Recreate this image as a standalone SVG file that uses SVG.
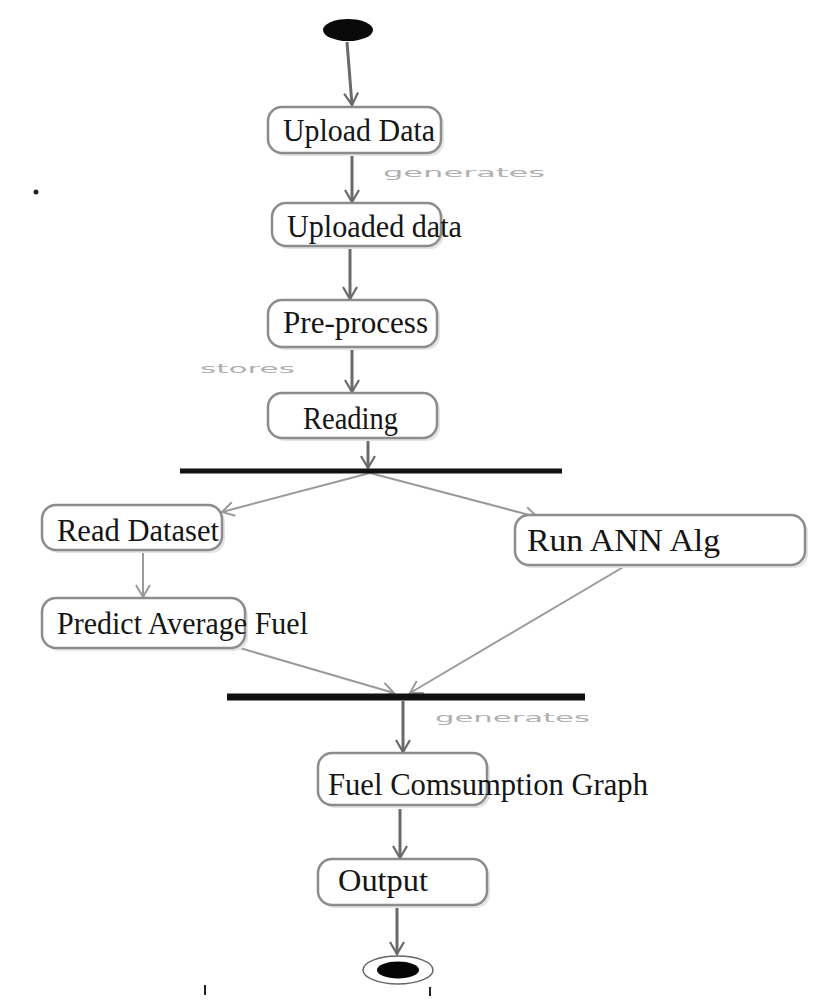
<svg xmlns="http://www.w3.org/2000/svg" width="833" height="1003" viewBox="0 0 833 1003">
  <style>
    .box { fill: #ffffff; stroke: #8c8c8c; stroke-width: 2.5; }
    .shadow { fill: #e4e4e4; }
    .label { font-family: "Liberation Serif", "Times New Roman", serif; font-size: 32px; fill: #151515; }
    .note { font-family: "DejaVu Sans", "Liberation Sans", sans-serif; font-size: 13px; fill: #b0b0b0; }
    .flow { stroke: #6a6a6a; stroke-width: 3; fill: none; marker-end: url(#arrow); }
    .flow-thin { stroke: #9a9a9a; stroke-width: 2; fill: none; marker-end: url(#arrow-light); }
    .bar { stroke: #111111; }
  </style>
  <defs>
    <marker id="arrow" markerUnits="userSpaceOnUse" markerWidth="18" markerHeight="18" refX="14" refY="8" orient="auto">
      <path d="M2,1 L14,8 L2,15" fill="none" stroke="#6a6a6a" stroke-width="2.2"/>
    </marker>
    <marker id="arrow-light" markerUnits="userSpaceOnUse" markerWidth="18" markerHeight="18" refX="14" refY="8" orient="auto">
      <path d="M2,1 L14,8 L2,15" fill="none" stroke="#9a9a9a" stroke-width="2"/>
    </marker>
  </defs>

  <rect width="833" height="1003" fill="#ffffff"/>

  <!-- connectors -->
  <g id="connectors">
    <path class="flow" d="M347,42 L352,105"/>
    <path class="flow" d="M352,154 L352,202"/>
    <path class="flow" d="M350,247 L350,299"/>
    <path class="flow" d="M352,348 L352,392"/>
    <path class="flow" d="M368,439 L368,468"/>
    <path class="flow-thin" d="M370,473 L222,512"/>
    <path class="flow-thin" d="M370,473 L537,517"/>
    <path class="flow-thin" d="M143,552 L143,597"/>
    <path class="flow-thin" d="M240,648 L394,693"/>
    <path class="flow-thin" d="M625,566 L410,693"/>
    <path class="flow" d="M403,701 L403,752"/>
    <path class="flow" d="M400,809 L400,858"/>
    <path class="flow" d="M397,907 L397,954"/>
  </g>

  <!-- guard labels on flows -->
  <g id="flow-labels">
    <text class="note" x="383" y="177" textLength="162" lengthAdjust="spacingAndGlyphs">generates</text>
    <text class="note" x="200" y="373" textLength="95" lengthAdjust="spacingAndGlyphs">stores</text>
    <text class="note" x="435" y="722" textLength="155" lengthAdjust="spacingAndGlyphs">generates</text>
  </g>

  <!-- initial state -->
  <g id="start">
    <ellipse cx="348" cy="30" rx="25" ry="11" fill="#0a0a0a"/>
  </g>

  <g id="upload-data">
    <rect class="shadow" x="271" y="110" width="173" height="46" rx="14"/>
    <rect class="box" x="268" y="107" width="173" height="46" rx="14"/>
    <text class="label" x="283" y="141" textLength="152" lengthAdjust="spacingAndGlyphs">Upload Data</text>
  </g>

  <g id="uploaded-data">
    <rect class="shadow" x="275" y="206" width="169" height="43" rx="14"/>
    <rect class="box" x="272" y="203" width="169" height="43" rx="14"/>
    <text class="label" x="287" y="237" textLength="175" lengthAdjust="spacingAndGlyphs">Uploaded data</text>
  </g>

  <g id="pre-process">
    <rect class="shadow" x="271" y="303" width="169" height="47" rx="14"/>
    <rect class="box" x="268" y="300" width="169" height="47" rx="14"/>
    <text class="label" x="283" y="333" textLength="145" lengthAdjust="spacingAndGlyphs">Pre-process</text>
  </g>

  <g id="reading">
    <rect class="shadow" x="271" y="396" width="169" height="45" rx="14"/>
    <rect class="box" x="268" y="393" width="169" height="45" rx="14"/>
    <text class="label" x="303" y="429" textLength="95" lengthAdjust="spacingAndGlyphs">Reading</text>
  </g>

  <!-- fork bar -->
  <g id="fork">
    <line class="bar" x1="180" y1="471" x2="562" y2="471" stroke-width="5"/>
  </g>

  <g id="read-dataset">
    <rect class="shadow" x="45" y="508" width="180" height="45" rx="14"/>
    <rect class="box" x="42" y="505" width="180" height="45" rx="14"/>
    <text class="label" x="57" y="541" textLength="162" lengthAdjust="spacingAndGlyphs">Read Dataset</text>
  </g>

  <g id="run-ann-alg">
    <rect class="shadow" x="518" y="518" width="290" height="50" rx="14"/>
    <rect class="box" x="515" y="515" width="290" height="50" rx="14"/>
    <text class="label" x="527" y="551" textLength="193" lengthAdjust="spacingAndGlyphs">Run ANN Alg</text>
  </g>

  <g id="predict-average-fuel">
    <rect class="shadow" x="45" y="601" width="203" height="50" rx="14"/>
    <rect class="box" x="42" y="598" width="203" height="50" rx="14"/>
    <text class="label" x="57" y="634" textLength="251" lengthAdjust="spacingAndGlyphs">Predict Average Fuel</text>
  </g>

  <!-- join bar -->
  <g id="join">
    <line class="bar" x1="227" y1="697" x2="585" y2="697" stroke-width="7"/>
  </g>

  <g id="fuel-consumption-graph">
    <rect class="shadow" x="321" y="756" width="169" height="52" rx="14"/>
    <rect class="box" x="318" y="753" width="169" height="52" rx="14"/>
    <text class="label" x="328" y="795" textLength="320" lengthAdjust="spacingAndGlyphs">Fuel Comsumption Graph</text>
  </g>

  <g id="output">
    <rect class="shadow" x="321" y="862" width="169" height="46" rx="14"/>
    <rect class="box" x="318" y="859" width="169" height="46" rx="14"/>
    <text class="label" x="338" y="891" textLength="90" lengthAdjust="spacingAndGlyphs">Output</text>
  </g>

  <!-- final state -->
  <g id="end">
    <ellipse cx="398" cy="970" rx="35" ry="14" fill="#ffffff" stroke="#666666" stroke-width="1.5"/>
    <ellipse cx="398" cy="970" rx="21" ry="8.5" fill="#050505"/>
  </g>

  <!-- stray marks -->
  <g id="marks" fill="#222222">
    <circle cx="36" cy="192" r="2.5"/>
    <rect x="204" y="985" width="2" height="10"/>
    <rect x="429" y="987" width="2" height="9"/>
  </g>
</svg>
